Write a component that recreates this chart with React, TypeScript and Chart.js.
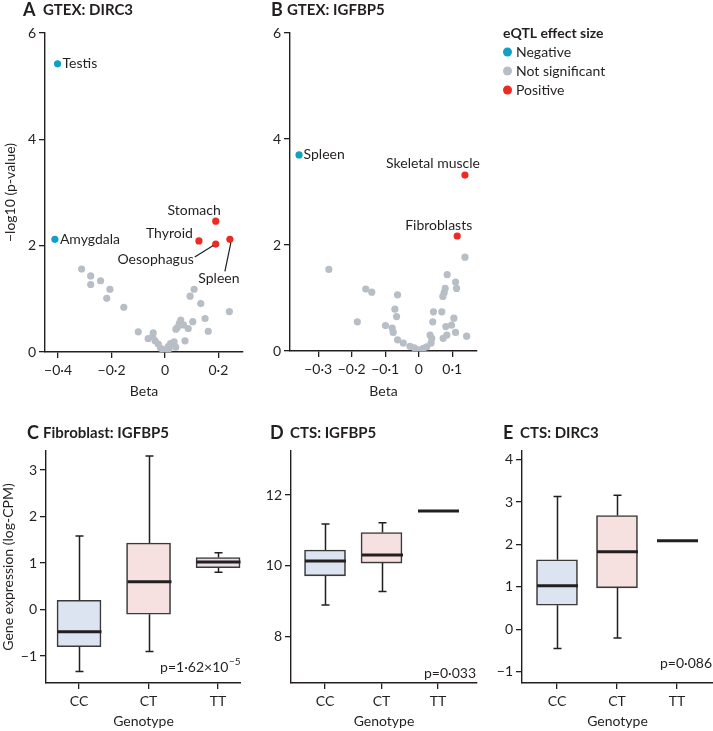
import React, { useEffect, useRef } from "react";
import { Chart, registerables } from "chart.js";

Chart.register(...registerables);

const FONT = "Lato, 'Open Sans', 'DejaVu Sans', sans-serif";
const INK = "#231f20";
const NEG_COLOR = "#109fc8";
const NS_COLOR = "#b8bec6";
const POS_COLOR = "#ec2b25";
const BOX_EDGE = "#3a3a3a";

// ---------- Panel A: GTEX DIRC3 ----------
const dircTissues = ["Testis", "Amygdala", "Stomach", "Thyroid", "Oesophagus", "Spleen"];
const dircTissueBeta = [-0.402, -0.412, 0.19, 0.127, 0.19, 0.243];
const dircTissueLogP = [5.42, 2.12, 2.46, 2.09, 2.03, 2.12];
const dircTissueEffect = ["Negative", "Negative", "Positive", "Positive", "Positive", "Positive"];
const dircNsBeta = [-0.312, -0.278, -0.278, -0.241, -0.206, -0.218, -0.154, -0.1, -0.063, -0.044, -0.046, -0.037, -0.025, -0.016, -0.006, 0.0, 0.012, 0.015, 0.021, 0.034, 0.04, 0.075, 0.059, 0.054, 0.046, 0.041, 0.069, 0.087, 0.104, 0.15, 0.162, 0.109, 0.094, 0.134, 0.241];
const dircNsLogP = [1.56, 1.43, 1.27, 1.34, 1.18, 1.01, 0.84, 0.38, 0.25, 0.36, 0.29, 0.21, 0.15, 0.07, 0.04, 0.02, 0.1, 0.06, 0.16, 0.19, 0.09, 0.21, 0.6, 0.54, 0.46, 0.43, 0.51, 0.44, 0.57, 0.63, 0.39, 1.18, 1.05, 0.91, 0.76];
const dircXTicks = [-0.4, -0.2, 0, 0.2];
const volcanoYTicks = [0, 2, 4, 6];

// ---------- Panel B: GTEX IGFBP5 ----------
const igfTissues = ["Spleen", "Skeletal muscle", "Fibroblasts"];
const igfTissueBeta = [-0.357, 0.138, 0.115];
const igfTissueLogP = [3.7, 3.32, 2.17];
const igfTissueEffect = ["Negative", "Positive", "Positive"];
const igfNsBeta = [-0.268, -0.183, -0.158, -0.14, -0.099, -0.079, -0.076, -0.071, -0.066, -0.063, -0.063, -0.046, -0.026, -0.013, 0, 0.014, 0.024, 0.034, 0.039, 0.037, 0.042, 0.044, 0.069, 0.072, 0.076, 0.079, 0.085, 0.11, 0.113, 0.138, 0.105, 0.098, 0.081, 0.11, 0.143, 0.084, 0.073];
const igfNsLogP = [1.54, 0.55, 1.17, 1.11, 0.48, 0.43, 0.35, 0.79, 0.65, 1.06, 0.21, 0.15, 0.09, 0.06, 0.02, 0.05, 0.08, 0.3, 0.24, 0.15, 0.55, 0.74, 0.74, 1.03, 1.1, 1.18, 1.44, 1.3, 1.18, 1.77, 0.62, 0.49, 0.46, 0.35, 0.28, 0.3, 0.24];
const igfXTicks = [-0.3, -0.2, -0.1, 0, 0.1];

// ---------- Legend ----------
const legendTitle = "eQTL effect size";
const legendLabels = ["Negative", "Not significant", "Positive"];

// ---------- Box plots ----------
const genotypes = ["CC", "CT", "TT"];

// C: Fibroblast IGFBP5
const fibMin = [-1.33, -0.9, 0.8];
const fibQ1 = [-0.8, -0.1, 0.9];
const fibMedian = [-0.48, 0.6, 1.02];
const fibQ3 = [0.2, 1.43, 1.12];
const fibMax = [1.58, 3.3, 1.22];
const fibYTicks = [-1, 0, 1, 2, 3];

// D: CTS IGFBP5
const ctsIgfMin = [8.9, 9.28, null];
const ctsIgfQ1 = [9.72, 10.08, null];
const ctsIgfMedian = [10.14, 10.31, 11.55];
const ctsIgfQ3 = [10.45, 10.94, null];
const ctsIgfMax = [11.18, 11.22, null];
const ctsIgfYTicks = [8, 10, 12];

// E: CTS DIRC3
const ctsDircMin = [-0.45, -0.2, null];
const ctsDircQ1 = [0.57, 0.98, null];
const ctsDircMedian = [1.03, 1.83, 2.09];
const ctsDircQ3 = [1.64, 2.68, null];
const ctsDircMax = [3.13, 3.16, null];
const ctsDircYTicks = [-1, 0, 1, 2, 3, 4];

// ---------- helpers ----------
const num = (v: number) => {
  const r = Math.round(v * 100) / 100;
  const s = Math.abs(r) < 1e-9 ? "0" : String(r);
  return s.replace("-", "\u2212").replace(".", "\u00b7");
};

const tickFont = { family: FONT, size: 14 };
const titleFont = { family: FONT, size: 14 };

function axis(o: any) {
  return {
    type: "linear",
    min: o.min,
    max: o.max,
    afterBuildTicks: (s: any) => {
      s.ticks = o.ticks.map((v: number) => ({ value: v }));
    },
    afterFit: (s: any) => {
      if (o.width != null) s.width = o.width;
      if (o.height != null) s.height = o.height;
    },
    offset: false,
    grid: { display: true, offset: false, drawOnChartArea: false, drawTicks: true, tickLength: 6, color: INK, lineWidth: 1.3 },
    border: { display: true, color: INK, width: 1.4 },
    ticks: {
      color: INK,
      font: tickFont,
      padding: o.tickPad ?? 3,
      autoSkip: false,
      maxRotation: 0,
      callback: o.labels ? (v: number) => o.labels[Math.round(v) - 1] : (v: number) => num(v),
    },
    title: o.title
      ? { display: true, text: o.title, color: INK, font: titleFont, padding: o.titlePad }
      : { display: false },
  };
}

type TextItem = { text: string; x: number; y: number; font: string; align?: CanvasTextAlign; sup?: string };

function textPlugin(items: TextItem[]) {
  return {
    id: "staticText",
    afterDraw(chart: any) {
      const ctx = chart.ctx;
      ctx.save();
      ctx.fillStyle = INK;
      ctx.textBaseline = "middle";
      items.forEach((it) => {
        ctx.font = it.font;
        if (it.sup) {
          const w1 = ctx.measureText(it.text).width;
          const supFont = `10px ${FONT}`;
          ctx.font = supFont;
          const w2 = ctx.measureText(it.sup).width;
          const x0 = it.align === "right" ? it.x - w1 - w2 : it.x;
          ctx.textAlign = "left";
          ctx.font = it.font;
          ctx.fillText(it.text, x0, it.y);
          ctx.font = supFont;
          ctx.fillText(it.sup, x0 + w1 + 0.5, it.y - 5);
        } else {
          ctx.textAlign = it.align || "left";
          ctx.fillText(it.text, it.x, it.y);
        }
      });
      ctx.restore();
    },
  };
}

function heading(letter: string, title: string, lx: number, tx: number, y: number): TextItem[] {
  return [
    { text: letter, x: lx, y, font: `bold 18px ${FONT}` },
    { text: title, x: tx, y, font: `bold 15px ${FONT}` },
  ];
}

type LabelStyle = { dx: number; dy: number; align: CanvasTextAlign; line?: number[] };

function pointLabelPlugin(names: string[], xs: number[], ys: number[], styles: Record<string, LabelStyle>) {
  return {
    id: "pointLabels",
    afterDatasetsDraw(chart: any) {
      const { ctx, scales } = chart;
      ctx.save();
      ctx.fillStyle = INK;
      ctx.strokeStyle = INK;
      ctx.lineWidth = 1.2;
      ctx.font = `14px ${FONT}`;
      ctx.textBaseline = "middle";
      names.forEach((n, i) => {
        const st = styles[n];
        const px = scales.x.getPixelForValue(xs[i]);
        const py = scales.y.getPixelForValue(ys[i]);
        ctx.textAlign = st.align;
        ctx.fillText(n, px + st.dx, py + st.dy);
        if (st.line) {
          ctx.beginPath();
          ctx.moveTo(px + st.line[0], py + st.line[1]);
          ctx.lineTo(px + st.line[2], py + st.line[3]);
          ctx.stroke();
        }
      });
      ctx.restore();
    },
  };
}

function legendPlugin(x: number, y: number) {
  const colors = [NEG_COLOR, NS_COLOR, POS_COLOR];
  return {
    id: "effectLegend",
    afterDraw(chart: any) {
      const ctx = chart.ctx;
      ctx.save();
      ctx.fillStyle = INK;
      ctx.textBaseline = "middle";
      ctx.textAlign = "left";
      ctx.font = `bold 14px ${FONT}`;
      ctx.fillText(legendTitle, x, y);
      ctx.font = `14px ${FONT}`;
      legendLabels.forEach((l, i) => {
        const cy = y + 19 * (i + 1);
        ctx.beginPath();
        ctx.fillStyle = colors[i];
        ctx.arc(x + 4.5, cy, 4.5, 0, Math.PI * 2);
        ctx.fill();
        ctx.fillStyle = INK;
        ctx.fillText(l, x + 13, cy);
      });
      ctx.restore();
    },
  };
}

function volcanoConfig(o: any) {
  const neg: any[] = [];
  const pos: any[] = [];
  o.tBeta.forEach((b: number, i: number) => {
    (o.tEffect[i] === "Negative" ? neg : pos).push({ x: b, y: o.tLogP[i] });
  });
  const ns = o.nsBeta.map((b: number, i: number) => ({ x: b, y: o.nsLogP[i] }));
  const ds = (label: string, data: any[], color: string, order: number) => ({
    label,
    data,
    order,
    pointRadius: 3.6,
    pointBorderWidth: 0,
    pointBackgroundColor: color,
    backgroundColor: color,
    showLine: false,
  });
  return {
    type: "scatter",
    data: {
      datasets: [
        ds(legendLabels[1], ns, NS_COLOR, 3),
        ds(legendLabels[0], neg, NEG_COLOR, 1),
        ds(legendLabels[2], pos, POS_COLOR, 1),
      ],
    },
    options: {
      animation: false,
      responsive: false,
      devicePixelRatio: 1,
      events: [],
      layout: { padding: o.padding },
      plugins: { legend: { display: false }, tooltip: { enabled: false } },
      scales: {
        x: axis({ min: o.xMin, max: o.xMax, ticks: o.xTicks, height: o.xH, title: "Beta", titlePad: { top: 0, bottom: 0 }, tickPad: 4 }),
        y: axis({ min: 0, max: 6, ticks: volcanoYTicks, width: o.yW, title: o.yTitle, titlePad: { top: 2, bottom: 0 } }),
      },
    },
    plugins: o.plugins,
  };
}

function boxPlugin(mins: any[], q1: any[], med: number[], q3: any[], maxs: any[], boxW: number) {
  return {
    id: "boxWhiskers",
    afterDatasetsDraw(chart: any) {
      const { ctx, scales } = chart;
      const yp = (v: number) => scales.y.getPixelForValue(v);
      ctx.save();
      ctx.strokeStyle = INK;
      med.forEach((m, i) => {
        const cx = Math.round(scales.x.getPixelForValue(i + 1)) + 0.5;
        if (q1[i] != null) {
          ctx.lineWidth = 1.5;
          ctx.beginPath();
          ctx.moveTo(cx, yp(q3[i]));
          ctx.lineTo(cx, yp(maxs[i]));
          ctx.moveTo(cx, yp(q1[i]));
          ctx.lineTo(cx, yp(mins[i]));
          ctx.moveTo(cx - 4, yp(maxs[i]));
          ctx.lineTo(cx + 4, yp(maxs[i]));
          ctx.moveTo(cx - 4, yp(mins[i]));
          ctx.lineTo(cx + 4, yp(mins[i]));
          ctx.stroke();
        }
        ctx.lineWidth = 3;
        ctx.beginPath();
        ctx.moveTo(cx - boxW / 2, yp(m));
        ctx.lineTo(cx + boxW / 2, yp(m));
        ctx.stroke();
      });
      ctx.restore();
    },
  };
}

function boxConfig(o: any) {
  const data: any[] = [];
  const fills: string[] = [];
  genotypes.forEach((g, i) => {
    if (o.q1[i] != null) {
      data.push({ x: i + 1, y: [o.q1[i], o.q3[i]] });
      fills.push(o.fills[i]);
    }
  });
  return {
    type: "bar",
    data: {
      datasets: [
        {
          label: "IQR",
          data,
          backgroundColor: fills,
          borderColor: BOX_EDGE,
          borderWidth: 1.6,
          borderSkipped: false,
          barThickness: o.boxW,
        },
      ],
    },
    options: {
      animation: false,
      responsive: false,
      devicePixelRatio: 1,
      events: [],
      layout: { padding: o.padding },
      plugins: { legend: { display: false }, tooltip: { enabled: false } },
      scales: {
        x: axis({ min: o.xMin, max: o.xMax, ticks: [1, 2, 3], labels: genotypes, height: o.xH, title: "Genotype", titlePad: { top: 0, bottom: 1 }, tickPad: 4 }),
        y: axis({ min: o.yMin, max: o.yMax, ticks: o.yTicks, width: o.yW, title: o.yTitle, titlePad: { top: 0, bottom: 0 } }),
      },
    },
    plugins: [boxPlugin(o.min, o.q1, o.median, o.q3, o.max, o.boxW), textPlugin(o.texts)],
  };
}

const FILL_CC = "#dce3f1";
const FILL_CT = "#f7e0e0";
const FILL_TT = "#eddeea";

const dircLabelStyles: Record<string, LabelStyle> = {
  Testis: { dx: 5, dy: 0, align: "left" },
  Amygdala: { dx: 5, dy: 0, align: "left" },
  Stomach: { dx: 5, dy: -11, align: "right" },
  Thyroid: { dx: -6, dy: -7, align: "right" },
  Oesophagus: { dx: -22, dy: 15, align: "right", line: [-21, 13, -2.5, 1.5] },
  Spleen: { dx: -11, dy: 39, align: "center", line: [1, 3, -5, 32] },
};
const igfLabelStyles: Record<string, LabelStyle> = {
  Spleen: { dx: 4.5, dy: 0, align: "left" },
  "Skeletal muscle": { dx: 15, dy: -12, align: "right" },
  Fibroblasts: { dx: 15, dy: -11, align: "right" },
};

function ChartCanvas({ left, top, width, height, make }: any) {
  const ref = useRef<HTMLCanvasElement>(null);
  useEffect(() => {
    const chart = new Chart(ref.current as HTMLCanvasElement, make());
    return () => chart.destroy();
  }, []);
  return (
    <canvas
      ref={ref}
      width={width}
      height={height}
      style={{ position: "absolute", left, top, width, height }}
    />
  );
}

export default function App() {
  return (
    <div style={{ position: "absolute", left: 0, top: 0, width: 713, height: 731, background: "#fff", overflow: "hidden" }}>
      <ChartCanvas
        left={0}
        top={0}
        width={250}
        height={400}
        make={() =>
          volcanoConfig({
            tBeta: dircTissueBeta,
            tLogP: dircTissueLogP,
            tEffect: dircTissueEffect,
            nsBeta: dircNsBeta,
            nsLogP: dircNsLogP,
            xMin: -0.449,
            xMax: 0.292,
            xTicks: dircXTicks,
            xH: 48,
            yW: 45,
            yTitle: "\u2212log10 (p-value)",
            padding: { left: 0, top: 33, right: 7, bottom: 0 },
            plugins: [
              pointLabelPlugin(dircTissues, dircTissueBeta, dircTissueLogP, dircLabelStyles),
              textPlugin(heading("A", "GTEX: DIRC3", 23, 43, 10)),
            ],
          })
        }
      />
      <ChartCanvas
        left={250}
        top={0}
        width={463}
        height={400}
        make={() =>
          volcanoConfig({
            tBeta: igfTissueBeta,
            tLogP: igfTissueLogP,
            tEffect: igfTissueEffect,
            nsBeta: igfNsBeta,
            nsLogP: igfNsLogP,
            xMin: -0.384,
            xMax: 0.174,
            xTicks: igfXTicks,
            xH: 49,
            yW: 40,
            yTitle: null,
            padding: { left: 0, top: 33, right: 236, bottom: 0 },
            plugins: [
              pointLabelPlugin(igfTissues, igfTissueBeta, igfTissueLogP, igfLabelStyles),
              textPlugin(heading("B", "GTEX: IGFBP5", 21, 37, 10)),
              legendPlugin(253, 33),
            ],
          })
        }
      />
      <ChartCanvas
        left={0}
        top={400}
        width={241}
        height={331}
        make={() =>
          boxConfig({
            min: fibMin,
            q1: fibQ1,
            median: fibMedian,
            q3: fibQ3,
            max: fibMax,
            fills: [FILL_CC, FILL_CT, FILL_TT],
            boxW: 44,
            xMin: 0.525,
            xMax: 3.33,
            yMin: -1.58,
            yMax: 3.41,
            yTicks: fibYTicks,
            xH: 48,
            yW: 46,
            yTitle: "Gene expression (log-CPM)",
            padding: { left: 0, top: 51, right: 0, bottom: 0 },
            texts: [
              ...heading("C", "Fibroblast: IGFBP5", 27, 43, 33),
              { text: "p=1\u00b762\u00d710", sup: "\u22125", x: 240, y: 267, font: `14px ${FONT}`, align: "right" },
            ],
          })
        }
      />
      <ChartCanvas
        left={241}
        top={400}
        width={239}
        height={331}
        make={() =>
          boxConfig({
            min: ctsIgfMin,
            q1: ctsIgfQ1,
            median: ctsIgfMedian,
            q3: ctsIgfQ3,
            max: ctsIgfMax,
            fills: [FILL_CC, FILL_CT, FILL_TT],
            boxW: 41,
            xMin: 0.398,
            xMax: 3.69,
            yMin: 6.7,
            yMax: 13.24,
            yTicks: ctsIgfYTicks,
            xH: 48,
            yW: 50,
            yTitle: null,
            padding: { left: 0, top: 51, right: 3, bottom: 0 },
            texts: [
              ...heading("D", "CTS: IGFBP5", 29, 49, 33),
              { text: "p=0\u00b7033", x: 235, y: 273, font: `14px ${FONT}`, align: "right" },
            ],
          })
        }
      />
      <ChartCanvas
        left={480}
        top={400}
        width={233}
        height={331}
        make={() =>
          boxConfig({
            min: ctsDircMin,
            q1: ctsDircQ1,
            median: ctsDircMedian,
            q3: ctsDircQ3,
            max: ctsDircMax,
            fills: [FILL_CC, FILL_CT, FILL_TT],
            boxW: 41,
            xMin: 0.417,
            xMax: 3.6,
            yMin: -1.26,
            yMax: 4.2,
            yTicks: ctsDircYTicks,
            xH: 48,
            yW: 42,
            yTitle: null,
            padding: { left: 0, top: 51, right: 0, bottom: 0 },
            texts: [
              ...heading("E", "CTS: DIRC3", 23, 40, 33),
              { text: "p=0\u00b7086", x: 232, y: 263, font: `14px ${FONT}`, align: "right" },
            ],
          })
        }
      />
    </div>
  );
}
